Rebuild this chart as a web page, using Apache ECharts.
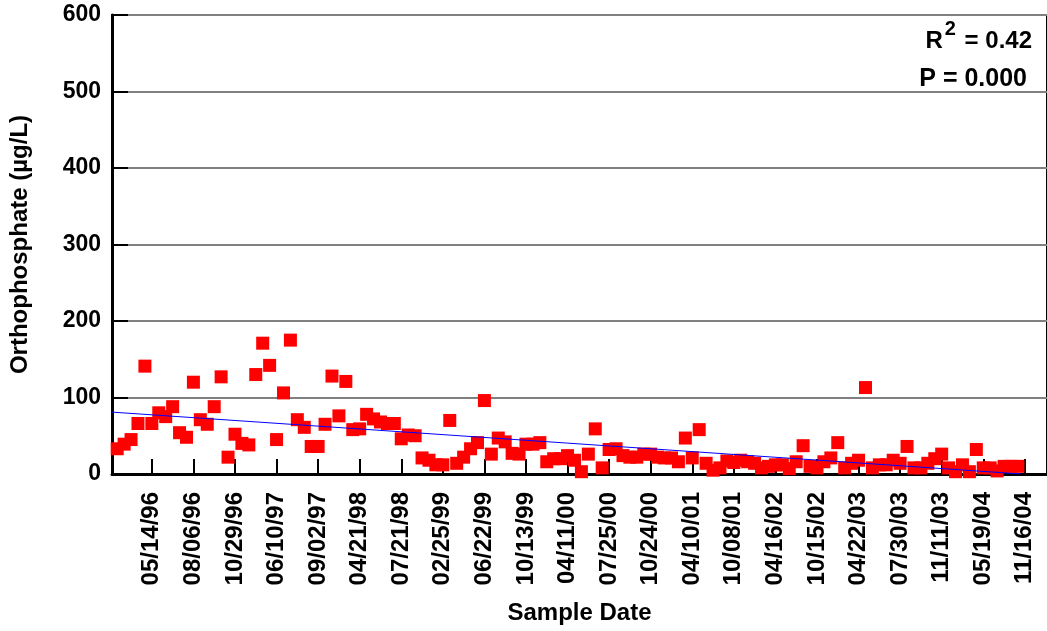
<!DOCTYPE html>
<html>
<head>
<meta charset="utf-8">
<script src="https://cdn.jsdelivr.net/npm/echarts@6/dist/echarts.min.js"></script>
<style>
html,body{margin:0;padding:0;background:#fff;}
#chart{width:1047px;height:631px;}
</style>
</head>
<body>
<div id="chart"></div>
<script>
// Orthophosphate values (µg/L), one per sample, in sample order
const values = [
  33, 39, 45, 66, 141, 66, 80, 75, 88, 54,
  48, 120, 71, 65, 88, 127, 22, 52, 40, 38,
  130, 171, 142, 45, 106, 175, 71, 61, 36, 36,
  65, 128, 76, 121, 58, 59, 78, 72, 68, 66,
  66, 46, 51, 50, 21, 18, 12, 12, 70, 14,
  22, 33, 41, 96, 26, 47, 42, 27, 26, 39,
  39, 41, 16, 20, 20, 24, 18, 3, 26, 59,
  8, 32, 33, 24, 22, 22, 26, 26, 22, 21,
  21, 16, 47, 21, 58, 14, 5, 8, 17, 15,
  18, 16, 14, 8, 10, 12, 12, 7, 16, 37,
  10, 8, 16, 21, 41, 8, 14, 18, 113, 8,
  12, 12, 18, 14, 36, 8, 8, 14, 20, 26,
  8, 3, 12, 3, 32, 8, 8, 4, 10, 10,
  10
];
// sample index of each labelled tick, and its label
const tickIndex = [5, 11, 17, 23, 29, 35, 41, 47, 53, 59, 65, 71, 77, 83, 89, 95, 101, 107, 113, 119, 125, 131];
const tickLabels = [
  "05/14/96", "08/06/96", "10/29/96", "06/10/97", "09/02/97", "04/21/98",
  "07/21/98", "02/25/99", "06/22/99", "10/13/99", "04/11/00", "07/25/00",
  "10/24/00", "04/10/01", "10/08/01", "04/16/02", "10/15/02", "04/22/03",
  "07/30/03", "11/11/03", "05/19/04", "11/16/04"
];
// regression line end points (sample index, value)
const trendX = [-0.75, 130.5];
const trendY = [80.9, 0];
const yTicks = [0, 100, 200, 300, 400, 500, 600];

const FONT = "'Liberation Sans', Arial, sans-serif";
const chart = echarts.init(document.getElementById('chart'), null, {renderer: 'canvas'});

const option = {
  backgroundColor: '#ffffff',
  animation: false,
  grid: {
    left: 111, right: 0, top: 15, bottom: 157,
    show: true, borderColor: '#000000', borderWidth: 2, backgroundColor: 'transparent'
  },
  xAxis: {
    type: 'value',
    min: -0.75,
    max: 134.2,
    name: 'Sample Date',
    nameLocation: 'middle',
    nameGap: 127,
    nameTextStyle: {fontFamily: FONT, fontWeight: 'bold', fontSize: 24, color: '#000'},
    axisLine: {show: true, onZero: false, lineStyle: {color: '#000', width: 3}},
    axisTick: {show: true, inside: true, length: 15, customValues: tickIndex, lineStyle: {color: '#000', width: 2}},
    axisLabel: {
      show: true, rotate: 90, margin: 18,
      customValues: tickIndex,
      fontFamily: FONT, fontWeight: 'bold', fontSize: 24, color: '#000',
      formatter: function (v) {
        const k = tickIndex.indexOf(Math.round(v));
        return k >= 0 ? tickLabels[k] : '';
      }
    },
    splitLine: {show: false}
  },
  yAxis: {
    type: 'value',
    min: 0, max: 600, interval: 100,
    name: 'Orthophosphate (µg/L)',
    nameLocation: 'middle',
    nameGap: 80,
    nameTextStyle: {fontFamily: FONT, fontWeight: 'bold', fontSize: 24, color: '#000'},
    axisLine: {show: true, onZero: false, lineStyle: {color: '#000', width: 3}},
    axisTick: {show: true, inside: true, length: 16, lineStyle: {color: '#000', width: 2}},
    axisLabel: {
      margin: 11, fontFamily: FONT, fontWeight: 'bold', fontSize: 23, color: '#000',
      formatter: function (v) { return yTicks.indexOf(v) >= 0 ? String(v) : ''; }
    },
    splitLine: {show: true, lineStyle: {color: '#808080', width: 2}}
  },
  series: [
    {
      type: 'scatter',
      symbol: 'rect',
      symbolSize: 13,
      itemStyle: {color: '#ff0000', opacity: 1},
      data: values.map(function (v, i) { return [i, v]; }),
      z: 2
    },
    {
      type: 'line',
      showSymbol: false,
      symbol: 'none',
      lineStyle: {color: '#0000ff', width: 1},
      data: trendX.map(function (x, i) { return [x, trendY[i]]; }),
      z: 3,
      silent: true
    }
  ],
  graphic: [
    {
      type: 'text',
      right: 15,
      top: 19,
      z: 10,
      style: {
        text: '{n|R}{s|2}{n| = 0.42}',
        fill: '#000',
        rich: {
          n: {fontFamily: FONT, fontWeight: 'bold', fontSize: 24, lineHeight: 30, verticalAlign: 'bottom'},
          s: {fontFamily: FONT, fontWeight: 'bold', fontSize: 20, lineHeight: 30, verticalAlign: 'bottom', padding: [0, 2, 14, 2]}
        }
      }
    },
    {
      type: 'text',
      right: 20,
      top: 67,
      z: 10,
      style: {
        text: 'P = 0.000',
        fill: '#000',
        fontFamily: FONT, fontWeight: 'bold', fontSize: 25
      }
    }
  ]
};
chart.setOption(option);
</script>
</body>
</html>
